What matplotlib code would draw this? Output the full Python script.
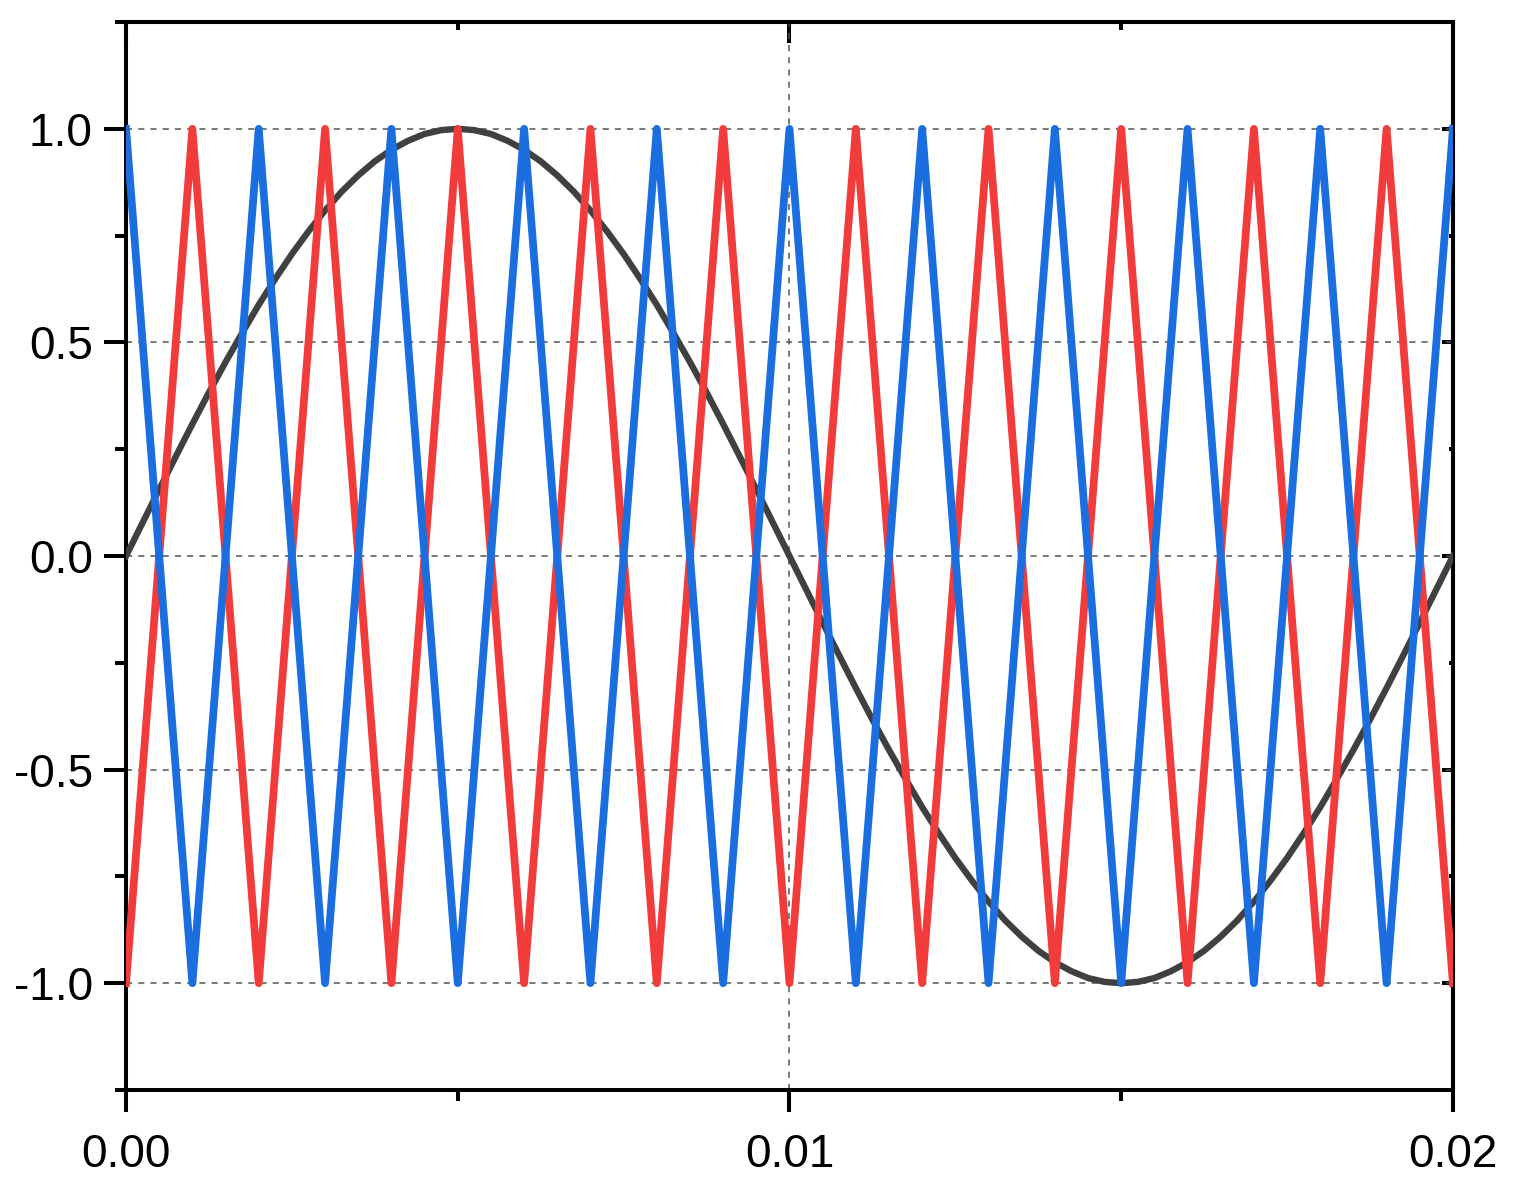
import numpy as np
import matplotlib
matplotlib.use('Agg')
import matplotlib.pyplot as plt
from matplotlib.ticker import MultipleLocator, FormatStrFormatter

plt.rcParams['font.family'] = ['Liberation Sans', 'DejaVu Sans']
plt.rcParams['axes.unicode_minus'] = False

# carrier vertices (triangle waves), time in s
tri_t = [0.000, 0.001, 0.002, 0.003, 0.004, 0.005, 0.006, 0.007, 0.008, 0.009, 0.010,
         0.011, 0.012, 0.013, 0.014, 0.015, 0.016, 0.017, 0.018, 0.019, 0.020]
blue_y = [1, -1, 1, -1, 1, -1, 1, -1, 1, -1, 1, -1, 1, -1, 1, -1, 1, -1, 1, -1, 1]
red_y = [-1, 1, -1, 1, -1, 1, -1, 1, -1, 1, -1, 1, -1, 1, -1, 1, -1, 1, -1, 1, -1]

# reference (modulating) wave, read every 0.25 ms
sin_t = [0.00000, 0.00025, 0.00050, 0.00075, 0.00100, 0.00125, 0.00150, 0.00175,
         0.00200, 0.00225, 0.00250, 0.00275, 0.00300, 0.00325, 0.00350, 0.00375,
         0.00400, 0.00425, 0.00450, 0.00475, 0.00500, 0.00525, 0.00550, 0.00575,
         0.00600, 0.00625, 0.00650, 0.00675, 0.00700, 0.00725, 0.00750, 0.00775,
         0.00800, 0.00825, 0.00850, 0.00875, 0.00900, 0.00925, 0.00950, 0.00975,
         0.01000, 0.01025, 0.01050, 0.01075, 0.01100, 0.01125, 0.01150, 0.01175,
         0.01200, 0.01225, 0.01250, 0.01275, 0.01300, 0.01325, 0.01350, 0.01375,
         0.01400, 0.01425, 0.01450, 0.01475, 0.01500, 0.01525, 0.01550, 0.01575,
         0.01600, 0.01625, 0.01650, 0.01675, 0.01700, 0.01725, 0.01750, 0.01775,
         0.01800, 0.01825, 0.01850, 0.01875, 0.01900, 0.01925, 0.01950, 0.01975,
         0.02000]
sin_y = [0.000, 0.078, 0.156, 0.233, 0.309, 0.383, 0.454, 0.522,
         0.588, 0.649, 0.707, 0.760, 0.809, 0.853, 0.891, 0.924,
         0.951, 0.972, 0.988, 0.997, 1.000, 0.997, 0.988, 0.972,
         0.951, 0.924, 0.891, 0.853, 0.809, 0.760, 0.707, 0.649,
         0.588, 0.522, 0.454, 0.383, 0.309, 0.233, 0.156, 0.078,
         0.000, -0.078, -0.156, -0.233, -0.309, -0.383, -0.454, -0.522,
         -0.588, -0.649, -0.707, -0.760, -0.809, -0.853, -0.891, -0.924,
         -0.951, -0.972, -0.988, -0.997, -1.000, -0.997, -0.988, -0.972,
         -0.951, -0.924, -0.891, -0.853, -0.809, -0.760, -0.707, -0.649,
         -0.588, -0.522, -0.454, -0.383, -0.309, -0.233, -0.156, -0.078,
         0.000]

fig = plt.figure(figsize=(15.13, 11.92), dpi=100)
ax = fig.add_axes([0.0833, 0.0856, 0.8770, 0.8959])

ax.plot(sin_t, sin_y, color='#404040', linewidth=4.6, solid_joinstyle='round', zorder=3)
ax.plot(tri_t, red_y, color='#F23C3C', linewidth=5.6, solid_joinstyle='round', zorder=4)
ax.plot(tri_t, blue_y, color='#1A6EE0', linewidth=5.6, solid_joinstyle='round', zorder=5)

ax.set_xlim(0, 0.02)
ax.set_ylim(-1.25, 1.25)

ax.xaxis.set_major_locator(MultipleLocator(0.01))
ax.xaxis.set_minor_locator(MultipleLocator(0.005))
ax.yaxis.set_major_locator(MultipleLocator(0.5))
ax.yaxis.set_minor_locator(MultipleLocator(0.25))
ax.xaxis.set_major_formatter(FormatStrFormatter('%.2f'))
ax.yaxis.set_major_formatter(FormatStrFormatter('%.1f'))

ax.grid(True, which='major', linestyle=(0, (4, 4)), linewidth=1.1, color='#555555', zorder=1)

for s in ax.spines.values():
    s.set_linewidth(2.9)

ax.tick_params(which='major', direction='out', length=16, width=2.9, labelsize=33, pad=8)
ax.tick_params(which='minor', direction='out', length=8, width=2.9)
ax.tick_params(axis='x', which='major', pad=15)

# inward ticks on top and right
top = ax.secondary_xaxis('top')
top.xaxis.set_major_locator(MultipleLocator(0.01))
top.xaxis.set_minor_locator(MultipleLocator(0.005))
top.tick_params(which='major', direction='in', length=15, width=2.9, labeltop=False)
top.tick_params(which='minor', direction='in', length=6, width=2.9)
top.spines['top'].set_linewidth(2.9)

right = ax.secondary_yaxis('right')
right.yaxis.set_major_locator(MultipleLocator(0.5))
right.yaxis.set_minor_locator(MultipleLocator(0.25))
right.tick_params(which='major', direction='in', length=8, width=2.9, labelright=False)
right.tick_params(which='minor', direction='in', length=3, width=2.9)
right.spines['right'].set_linewidth(2.9)

fig.savefig('out.png', dpi=100)
